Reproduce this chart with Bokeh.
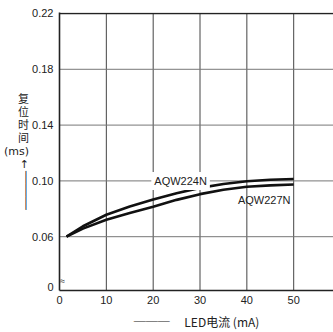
from bokeh.plotting import figure
from bokeh.models import Range1d, FixedTicker, Label
from bokeh.embed import file_html
from bokeh.resources import INLINE

# ---- data ----
led_current = [1.5, 5, 10, 15, 20, 25, 30, 35, 40, 45, 50]
aqw224n = [0.060, 0.0675, 0.0757, 0.0816, 0.0866, 0.0912, 0.0950, 0.0978, 0.0998, 0.1008, 0.1014]
aqw227n = [0.060, 0.0658, 0.0721, 0.0770, 0.0815, 0.0864, 0.0905, 0.0937, 0.0958, 0.0968, 0.0974]
x_ticks = [0, 10, 20, 30, 40, 50]
y_ticks = [0.06, 0.10, 0.14, 0.18, 0.22]
y_tick_labels = ["0.06", "0.10", "0.14", "0.18", "0.22"]
series_names = ["AQW224N", "AQW227N"]

PX = 1400.0                      # pixels per y unit
Y_BOT = 0.06 - 54 / PX           # broken axis: frame bottom stands for 0
Y_TOP = 0.22 + 1 / PX
Y_ZERO_LABEL = 0.06 - 50 / PX
X_END = 58.5

FONT = "Liberation Sans"
CJK = "Noto Sans CJK SC"
TITLE_FONT = "DejaVu Sans, Noto Sans CJK SC"
INK = "#222222"

p = figure(width=333, height=332, x_range=Range1d(0, X_END), y_range=Range1d(Y_BOT, Y_TOP),
           output_backend="svg", toolbar_location=None,
           min_border_left=59, min_border_right=0, min_border_top=12, min_border_bottom=41)
p.outline_line_color = None
p.background_fill_color = "white"
p.grid.visible = False

# axes
p.xaxis.ticker = FixedTicker(ticks=x_ticks)
p.yaxis.ticker = FixedTicker(ticks=[Y_ZERO_LABEL] + y_ticks)
overrides = {Y_ZERO_LABEL: "0"}
for v, t in zip(y_ticks, y_tick_labels):
    overrides[v] = t
p.yaxis.major_label_overrides = overrides
for ax in (p.xaxis[0], p.yaxis[0]):
    ax.axis_line_color = INK
    ax.axis_line_width = 1.6
    ax.major_tick_line_color = None
    ax.minor_tick_line_color = None
    ax.major_tick_out = 0
    ax.major_tick_in = 0
    ax.minor_tick_out = 0
    ax.minor_tick_in = 0
    ax.major_label_text_font = FONT
    ax.major_label_text_font_size = "11px"
    ax.major_label_text_color = INK
p.yaxis.major_label_standoff = 6
p.xaxis.major_label_standoff = 5

# axis titles
p.yaxis.axis_label = "复\n位\n时\n间\n(ms)\n↑\n│\n│\n│"
p.yaxis.axis_label_orientation = "horizontal"
p.yaxis.axis_label_text_font = TITLE_FONT
p.yaxis.axis_label_text_font_size = "11px"
p.yaxis.axis_label_text_font_style = "normal"
p.yaxis.axis_label_text_color = INK
p.yaxis.axis_label_text_line_height = 1.0
p.yaxis.axis_label_standoff = 0

p.xaxis.axis_label = "───\u3000 LED电流 (mA)"
p.xaxis.axis_label_text_font = CJK
p.xaxis.axis_label_text_font_size = "12px"
p.xaxis.axis_label_text_font_style = "normal"
p.xaxis.axis_label_text_color = INK
p.xaxis.axis_label_standoff = 6

# grid lines drawn from the tick arrays
gx = x_ticks[1:]
p.segment(x0=gx, y0=[Y_BOT] * len(gx), x1=gx, y1=[0.22] * len(gx), line_color="#444444", line_width=1)
gy = y_ticks[:-1]
p.segment(x0=[0] * len(gy), y0=gy, x1=[X_END] * len(gy), y1=gy, line_color="#777777", line_width=1)
p.segment(x0=[0], y0=[y_ticks[-1]], x1=[X_END], y1=[y_ticks[-1]], line_color=INK, line_width=1.6)

# curves
p.line(led_current, aqw224n, line_color="#111111", line_width=2.6)
p.line(led_current, aqw227n, line_color="#111111", line_width=2.6)

p.add_layout(Label(x=19.6, y=0.10, text=series_names[0], text_baseline="middle",
                   text_font=FONT, text_font_size="11px", text_color=INK,
                   background_fill_color="white", padding=3))
p.add_layout(Label(x=38.1, y=0.0864, text=series_names[1], text_baseline="middle",
                   text_font=FONT, text_font_size="11px", text_color=INK))

# axis break mark
p.add_layout(Label(x=0.65, y=0.06 - 44 / PX, text="≈", text_align="center", text_baseline="middle",
                   text_font=FONT, text_font_size="9px", text_color=INK))

open("out.html", "w").write(file_html(p, INLINE))
